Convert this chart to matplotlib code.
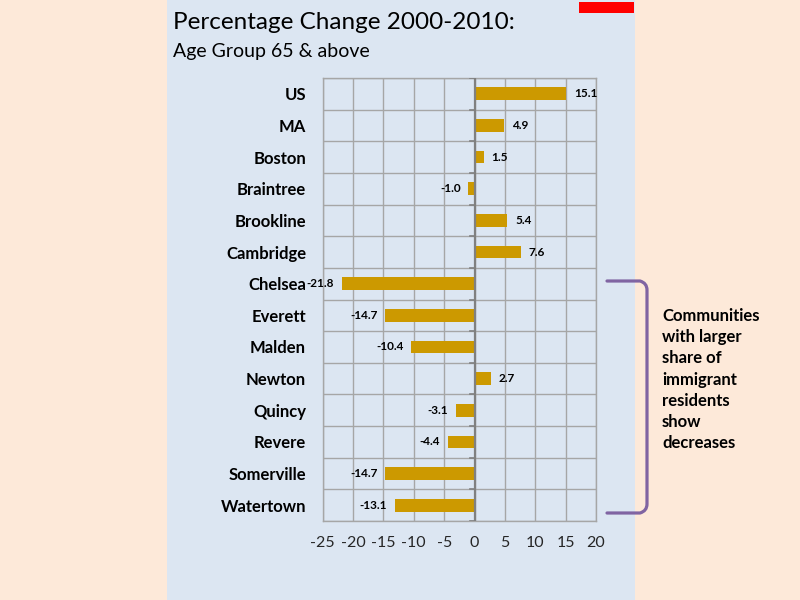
import matplotlib
matplotlib.use("Agg")
import matplotlib.pyplot as plt
from matplotlib.path import Path
from matplotlib.patches import PathPatch, Rectangle

cats = ["US", "MA", "Boston", "Braintree", "Brookline", "Cambridge", "Chelsea",
        "Everett", "Malden", "Newton", "Quincy", "Revere", "Somerville", "Watertown"]
vals = [15.1, 4.9, 1.5, -1.0, 5.4, 7.6, -21.8, -14.7, -10.4, 2.7, -3.1, -4.4, -14.7, -13.1]
xticks = [-25, -20, -15, -10, -5, 0, 5, 10, 15, 20]
title = "Percentage Change 2000-2010:"
subtitle = "Age Group 65 & above"
note = "Communities\nwith larger\nshare of\nimmigrant\nresidents\nshow\ndecreases"

PEACH = "#fde9d9"; PANEL = "#dce6f2"; BAR = "#cc9900"; GRID = "#a6a6a6"; PURPLE = "#8064a2"
plt.rcParams["font.family"] = ["Lato", "DejaVu Sans"]

fig = plt.figure(figsize=(8, 6), dpi=100, facecolor=PEACH)

# background layer in pixel coordinates
bg = fig.add_axes([0, 0, 1, 1], zorder=0)
bg.set_xlim(0, 800); bg.set_ylim(600, 0); bg.axis("off")
bg.add_patch(Rectangle((167, 0), 468, 600, color=PANEL, lw=0))
bg.add_patch(Rectangle((579, 2), 55, 11, color="red", lw=0))
bg.text(173, 29, title, fontsize=17.5, va="baseline", ha="left")
bg.text(173, 57, subtitle, fontsize=14, va="baseline", ha="left")
verts = [(607, 281), (640, 281), (647, 283), (647, 290), (647, 504), (647, 511),
         (640, 513), (607, 513)]
codes = [Path.MOVETO, Path.LINETO, Path.CURVE3, Path.CURVE3, Path.LINETO,
         Path.CURVE3, Path.CURVE3, Path.LINETO]
bg.add_patch(PathPatch(Path(verts, codes), fill=False, ec=PURPLE, lw=2.3,
                       capstyle="round", joinstyle="round"))
bg.text(662, 308, note, fontsize=12, fontweight="bold", va="top", ha="left",
        linespacing=1.4)

ax = fig.add_axes([322.7 / 800, 1 - 521 / 600, 273.3 / 800, 443 / 600], zorder=1)
ax.set_facecolor("none")
y = list(range(len(cats)))
ax.barh(y, vals, height=0.4, color=BAR, zorder=3)
ax.set_xlim(-25, 20); ax.set_ylim(len(cats) - 0.5, -0.5)
ax.set_xticks(xticks)
ax.set_xticklabels([str(t) for t in xticks], fontsize=11.5, color="#262626")
ax.tick_params(axis="x", length=0, pad=11)
ax.set_yticks(y)
ax.set_yticklabels(cats, fontsize=12, fontweight="bold")
ax.tick_params(axis="y", length=0, pad=12)
for t in xticks:
    ax.axvline(t, color=GRID, lw=1, zorder=1)
for k in range(len(cats) + 1):
    ax.axhline(k - 0.5, color=GRID, lw=1, zorder=1)
ax.axvline(0, color="#808080", lw=1.6, zorder=4)
for k in range(len(cats) + 1):
    ax.plot([-0.7, 0], [k - 0.5, k - 0.5], color="#808080", lw=1.2, zorder=4)
for s in ax.spines.values():
    s.set_color(GRID); s.set_linewidth(1)
for yi, v in zip(y, vals):
    off = 1.3 if v >= 0 else -1.3
    ax.text(v + off, yi, f"{v:.1f}", ha="left" if v >= 0 else "right", va="center",
            fontsize=8.5, fontweight="bold", zorder=5)

fig.savefig("out.png", dpi=100, facecolor=PEACH)
